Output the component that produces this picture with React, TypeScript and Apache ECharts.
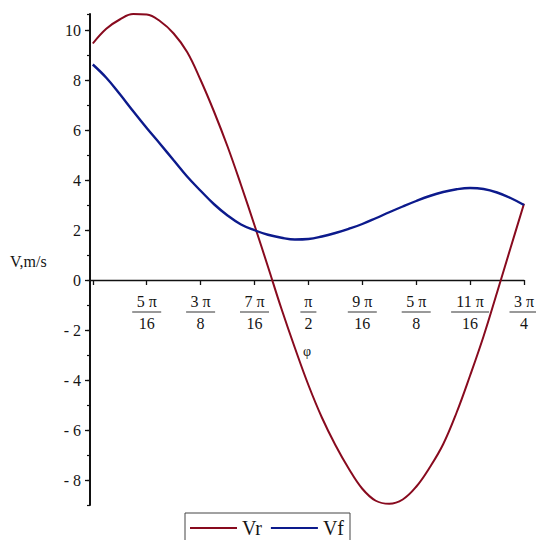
import React, { useEffect, useRef } from "react";
import * as echarts from "echarts";

// Sampling grid: phi from π/4 to 3π/4 in steps of π/64
const PHI_STEPS = 32;
const PHI_START = Math.PI / 4;
const PHI_STEP = Math.PI / 64;

// Radial velocity Vr, m/s
const vr = [
  9.46, 10.05, 10.42, 10.64, 10.62, 10.35, 9.86, 9.12, 8.0, 6.73, 5.34,
  3.8, 2.19, 0.53, -1.15, -2.72, -4.2, -5.5, -6.6, -7.55, -8.35, -8.83,
  -8.95, -8.78, -8.27, -7.5, -6.57, -5.3, -3.82, -2.25, -0.5, 1.28, 3.05,
];

// Velocity Vf, m/s
const vf = [
  8.62, 8.09, 7.44, 6.75, 6.08, 5.44, 4.79, 4.14, 3.57, 3.03, 2.58, 2.22,
  1.99, 1.81, 1.69, 1.62, 1.64, 1.74, 1.88, 2.05, 2.24, 2.47, 2.71, 2.94,
  3.16, 3.36, 3.52, 3.63, 3.68, 3.64, 3.5, 3.28, 3.0,
];

// x ticks in multiples of π/16
const xTickMultiples = [4, 5, 6, 7, 8, 9, 10, 11, 12];
const xLabelMultiples = [5, 6, 7, 8, 9, 10, 11, 12];
const yLabels = [-8, -6, -4, -2, 0, 2, 4, 6, 8, 10];

const Y_MIN = -9;
const Y_MAX = 10.64;

const seriesNames = ["Vr", "Vf"];
const yAxisName = "V,m/s";
const xAxisName = "φ";

const FONT = '"Liberation Serif", "Times New Roman", serif';
const TEXT = "#151515";

const GRID_TOP = 14;
const GRID_BOTTOM = 35;
const CHART_H = 540;

function gcd(a: number, b: number): number {
  return b === 0 ? a : gcd(b, a % b);
}

function fractionLabel(value: number): string {
  const n = Math.round(value / (Math.PI / 16));
  const g = gcd(n, 16);
  const a = n / g;
  const b = 16 / g;
  const num = a === 1 ? "π" : `${a} π`;
  const bar = num.length <= 1 ? "barS" : num.length <= 3 ? "barM" : "barL";
  return `{num|${num}}\n{${bar}| }\n{den|${b}}`;
}

export default function App() {
  const ref = useRef<HTMLDivElement>(null);

  useEffect(() => {
    document.body.style.margin = "0";
    if (!ref.current) return;
    const chart = echarts.init(ref.current, null, { renderer: "svg" });

    const phi = Array.from({ length: PHI_STEPS + 1 }, (_, k) => PHI_START + k * PHI_STEP);
    const toPairs = (vals: number[]) => vals.map((v, i) => [phi[i], v]);

    const xMin = Math.PI / 4 - 0.0102;
    const xMax = (3 * Math.PI) / 4;

    // lift the x axis from the grid bottom up to the y = 0 line
    const plotH = CHART_H - GRID_TOP - GRID_BOTTOM;
    const zeroOffset = -(plotH * (0 - Y_MIN)) / (Y_MAX - Y_MIN);

    chart.setOption({
      animation: false,
      backgroundColor: "#ffffff",
      grid: {
        left: 90,
        right: 12,
        top: GRID_TOP,
        bottom: GRID_BOTTOM,
        containLabel: false,
        outerBoundsMode: "none",
      },
      xAxis: {
        type: "value",
        min: xMin,
        max: xMax,
        position: "bottom",
        offset: zeroOffset,
        axisLine: {
          onZero: false,
          lineStyle: { color: "#111", width: 1.3 },
        },
        axisTick: {
          show: true,
          length: 5,
          customValues: xTickMultiples.map((m) => (m * Math.PI) / 16),
          lineStyle: { color: "#111", width: 1.3 },
        },
        axisLabel: {
          show: true,
          margin: 13,
          hideOverlap: false,
          customValues: xLabelMultiples.map((m) => (m * Math.PI) / 16),
          formatter: (v: number) => fractionLabel(v),
          color: TEXT,
          fontFamily: FONT,
          fontSize: 16,
          rich: {
            num: { fontFamily: FONT, fontSize: 16, lineHeight: 17, color: TEXT, align: "center" },
            den: { fontFamily: FONT, fontSize: 16, lineHeight: 19, color: TEXT, align: "center" },
            barS: { width: 16, height: 1, lineHeight: 4, backgroundColor: "#333", align: "center" },
            barM: { width: 29, height: 1, lineHeight: 4, backgroundColor: "#333", align: "center" },
            barL: { width: 38, height: 1, lineHeight: 4, backgroundColor: "#333", align: "center" },
          },
        },
        splitLine: { show: false },
      },
      yAxis: [
        {
          type: "value",
          min: Y_MIN,
          max: Y_MAX,
          position: "left",
          axisLine: { show: true, onZero: false, lineStyle: { color: "#111", width: 2 } },
          axisTick: {
            show: true,
            length: 5,
            customValues: yLabels,
            lineStyle: { color: "#111", width: 1.3 },
          },
          axisLabel: {
            show: true,
            margin: 9,
            customValues: yLabels,
            formatter: (v: number) => (v < 0 ? `- ${Math.abs(v)}` : `${v}`),
            color: TEXT,
            fontFamily: FONT,
            fontSize: 16,
          },
          splitLine: { show: false },
        },
        {
          // minor ticks every unit
          type: "value",
          min: Y_MIN,
          max: Y_MAX,
          interval: 1,
          position: "left",
          axisLine: { show: false, onZero: false },
          axisTick: { show: true, length: 3, lineStyle: { color: "#111", width: 1.2 } },
          axisLabel: { show: false },
          splitLine: { show: false },
        },
      ],
      legend: {
        data: seriesNames,
        left: 185,
        top: 513,
        orient: "horizontal",
        icon: "rect",
        itemWidth: 47,
        itemHeight: 2,
        itemGap: 9,
        padding: [5, 6, 5, 5],
        borderColor: "#444",
        borderWidth: 1,
        textStyle: { fontFamily: FONT, fontSize: 20, color: TEXT },
      },
      graphic: [
        {
          type: "text",
          x: 10,
          y: 261,
          style: {
            text: yAxisName,
            font: `16px ${FONT}`,
            fill: TEXT,
            align: "left",
            verticalAlign: "middle",
          },
        },
        {
          type: "text",
          x: 307,
          y: 351,
          style: {
            text: xAxisName,
            font: `14px ${FONT}`,
            fill: TEXT,
            align: "center",
            verticalAlign: "middle",
          },
        },
      ],
      series: [
        {
          name: seriesNames[0],
          type: "line",
          data: toPairs(vr),
          yAxisIndex: 0,
          showSymbol: false,
          smooth: 0.4,
          lineStyle: { color: "#880a1e", width: 2 },
          itemStyle: { color: "#880a1e" },
        },
        {
          name: seriesNames[1],
          type: "line",
          data: toPairs(vf),
          yAxisIndex: 0,
          showSymbol: false,
          smooth: 0.4,
          lineStyle: { color: "#0c1a8c", width: 2.4 },
          itemStyle: { color: "#0c1a8c" },
        },
      ],
    });

    return () => chart.dispose();
  }, []);

  return <div ref={ref} style={{ width: 536, height: 540 }} />;
}
